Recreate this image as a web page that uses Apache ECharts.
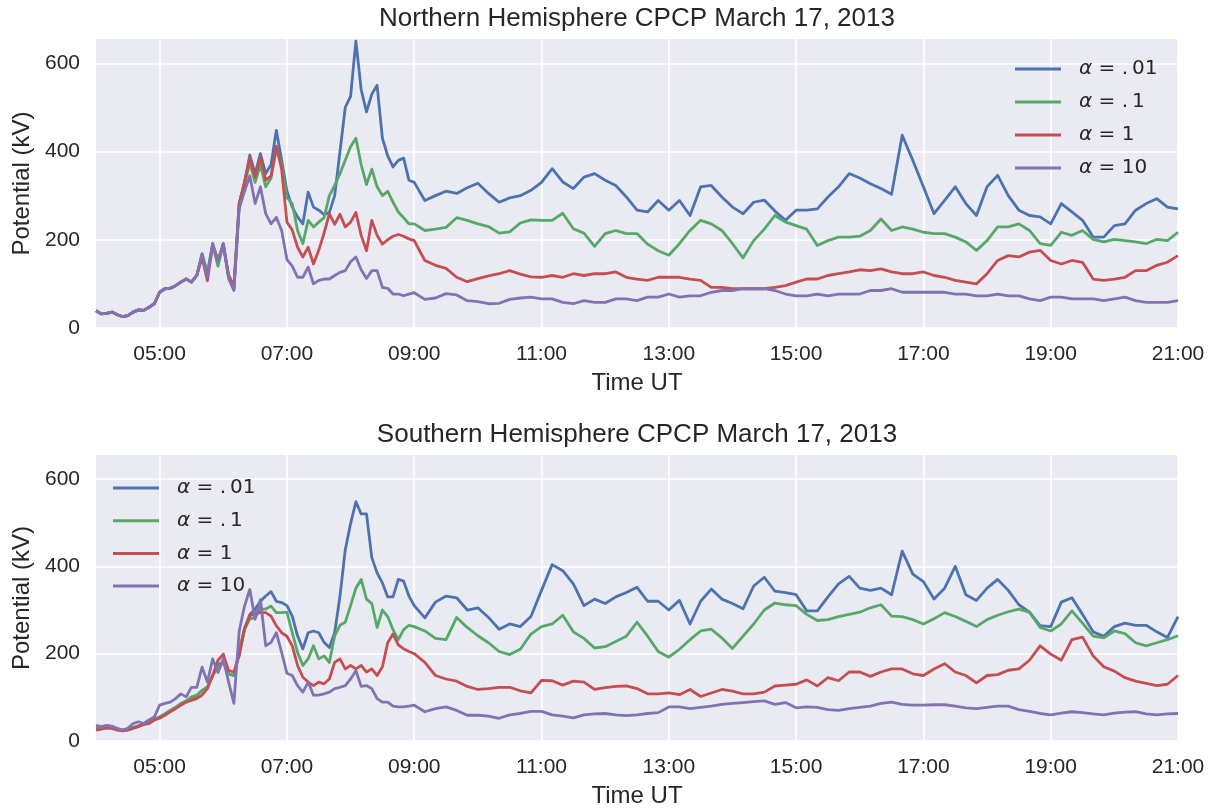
<!DOCTYPE html>
<html><head><meta charset="utf-8">
<script src="https://cdn.jsdelivr.net/npm/echarts@6/dist/echarts.min.js"></script>
<style>html,body{margin:0;padding:0;background:#fff}#c{width:1212px;height:809px}</style>
</head><body><div id="c"></div>
<script>
const times = [
"04:00","04:05","04:10","04:15","04:20","04:25","04:30","04:35","04:40","04:45","04:50","04:55",
"05:00","05:05","05:10","05:15","05:20","05:25","05:30","05:35","05:40","05:45","05:50","05:55",
"06:00","06:05","06:10","06:15","06:20","06:25","06:30","06:35","06:40","06:45","06:50","06:55",
"07:00","07:05","07:10","07:15","07:20","07:25","07:30","07:35","07:40","07:45","07:50","07:55",
"08:00","08:05","08:10","08:15","08:20","08:25","08:30","08:35","08:40","08:45","08:50","08:55",
"09:00","09:10","09:20","09:30","09:40","09:50",
"10:00","10:10","10:20","10:30","10:40","10:50",
"11:00","11:10","11:20","11:30","11:40","11:50",
"12:00","12:10","12:20","12:30","12:40","12:50",
"13:00","13:10","13:20","13:30","13:40","13:50",
"14:00","14:10","14:20","14:30","14:40","14:50",
"15:00","15:10","15:20","15:30","15:40","15:50",
"16:00","16:10","16:20","16:30","16:40","16:50",
"17:00","17:10","17:20","17:30","17:40","17:50",
"18:00","18:10","18:20","18:30","18:40","18:50",
"19:00","19:10","19:20","19:30","19:40","19:50",
"20:00","20:10","20:20","20:30","20:40","20:50",
"21:00"];

const seriesNames = ["α=.01", "α=.1", "α=1", "α=10"];
const legendText = {"α=.01": " = .\u200901", "α=.1": " = .\u20091", "α=1": " = 1", "α=10": " = 10"};

// Northern Hemisphere (kV)
const northA001 = [
39,32,33,36,30,26,28,36,41,40,47,55,
81,89,90,96,104,111,104,119,168,120,191,150,
191,115,89,282,330,392,350,395,350,370,448,380,
310,274,252,236,308,274,267,257,262,300,400,500,
525,650,540,490,530,550,430,390,365,380,385,335,
330,289,300,310,305,318,
328,305,285,295,300,312,
330,361,331,316,342,350,
335,323,297,267,263,289,
267,289,255,320,323,297,
274,259,285,290,265,244,
267,267,270,297,320,350,
340,327,316,303,437,380,
320,259,289,320,282,255,
320,346,300,267,255,252,
236,282,263,244,206,206,
232,236,267,282,293,274,
270];
const northA01 = [
39,32,33,36,30,26,28,36,41,40,47,55,
81,89,90,96,104,111,104,119,165,128,188,140,
191,118,92,282,325,375,330,370,320,340,405,370,
295,282,221,191,244,229,240,250,300,323,350,380,
411,430,370,325,360,320,300,310,285,263,250,236,
236,221,224,228,250,244,
236,230,215,218,238,245,
244,244,260,225,215,185,
214,221,214,214,190,175,
165,191,221,244,236,221,
191,159,198,224,255,240,
232,224,187,198,206,206,
208,221,247,221,229,224,
217,214,214,206,195,176,
198,229,229,236,221,191,
187,217,210,221,201,195,
201,198,195,191,201,198,
217];
const northA1 = [
39,32,33,36,30,26,28,36,41,40,47,55,
81,89,90,96,104,111,104,119,160,107,188,155,
188,120,95,282,330,385,342,388,335,345,412,360,
240,222,183,161,183,145,176,215,259,235,258,229,
240,262,210,175,244,210,190,200,208,212,208,202,
198,153,142,135,115,105,
112,118,123,130,122,116,
115,119,115,123,119,123,
123,127,115,111,108,115,
115,115,111,108,92,92,
89,89,89,89,92,96,
104,111,111,119,123,127,
132,130,134,127,123,123,
127,119,115,108,104,100,
123,153,164,161,172,176,
153,145,153,149,111,108,
111,115,130,130,142,149,
164];
const northA10 = [
39,32,33,36,30,26,28,36,41,40,47,55,
81,89,90,96,104,111,104,119,168,115,191,150,
191,112,85,270,310,345,282,320,259,236,251,221,
155,140,115,115,138,100,108,111,111,119,126,130,
150,161,132,112,130,130,92,90,77,77,73,77,
80,65,68,78,75,62,
60,55,56,65,68,70,
66,66,58,55,62,58,
58,66,66,62,70,70,
77,70,73,73,81,85,
85,89,89,89,85,77,
73,73,77,73,77,77,
77,85,85,89,81,81,
81,81,81,77,77,73,
73,77,73,73,66,62,
70,70,66,66,66,62,
66,70,62,58,58,58,
62];

// Southern Hemisphere (kV)
const southA001 = [
30,30,32,31,28,25,27,31,35,39,42,49,
55,62,70,77,85,90,98,103,116,123,150,175,
180,153,150,205,258,290,302,320,332,342,320,317,
310,286,241,211,248,252,248,226,214,248,332,438,
498,548,520,520,420,385,362,330,330,370,366,332,
310,282,318,332,328,300,
305,283,256,268,262,285,
345,404,390,360,310,325,
315,330,340,352,320,320,
300,322,268,320,348,325,
315,303,355,375,343,340,
335,298,298,330,360,377,
350,345,350,335,435,382,
365,325,350,400,335,322,
350,370,345,312,295,264,
262,318,328,290,250,240,
262,270,265,265,250,237,
285];
const southA01 = [
28,28,30,29,26,24,26,30,34,38,42,50,
55,62,70,77,86,92,101,105,116,123,150,170,
180,153,150,203,256,279,283,302,302,309,294,294,
295,248,203,173,188,218,188,195,180,241,265,272,
310,350,370,325,315,260,300,285,255,232,255,265,
262,252,235,232,283,260,
241,225,205,198,210,245,
262,268,288,250,235,213,
216,228,240,272,240,205,
192,210,232,252,256,236,
212,240,268,300,316,312,
310,290,276,278,285,290,
295,305,312,286,285,278,
268,280,294,285,274,262,
278,288,296,302,295,260,
252,268,298,270,240,236,
252,246,225,218,225,232,
241];
const southA1 = [
25,27,30,29,25,23,25,29,33,38,40,48,
52,59,67,74,82,89,93,97,105,120,150,185,
199,161,158,195,256,286,294,294,294,286,264,248,
240,218,173,146,135,127,135,131,142,180,188,165,
173,165,173,158,165,150,170,225,245,220,211,205,
200,180,150,142,137,125,
118,120,123,123,115,110,
139,138,128,137,135,118,
122,125,126,120,108,108,
110,106,118,102,110,118,
114,108,108,112,126,128,
130,140,126,145,138,158,
158,148,158,165,165,154,
150,165,177,158,150,133,
150,152,162,165,185,218,
199,185,232,238,195,170,
160,145,137,132,127,130,
150];
const southA10 = [
36,33,36,34,29,25,29,40,44,40,48,55,
82,86,89,97,108,101,123,123,169,135,188,157,
188,135,86,252,309,347,279,324,218,226,248,203,
155,150,127,112,135,105,105,108,112,120,123,127,
142,161,125,127,120,97,89,89,80,78,78,80,
82,67,74,78,70,59,
59,57,52,60,63,68,
68,60,57,53,60,62,
63,60,58,60,63,65,
78,78,74,77,80,84,
86,88,90,92,84,88,
76,78,77,72,70,74,
77,80,86,89,84,82,
82,83,83,80,76,74,
77,80,80,72,68,63,
60,64,67,65,62,60,
64,66,67,62,60,62,
63];

const colors = ["#4C72B0", "#55A868", "#C44E52", "#8172B2"];
const TXT = "#262626";
const SANS = "Liberation Sans, Arial, sans-serif";

function toMin(s) { const p = s.split(":"); return (+p[0]) * 60 + (+p[1]); }
const X = times.map(toMin);
const pair = arr => arr.map((v, i) => [X[i], v]);

const north = [northA001, northA01, northA1, northA10];
const south = [southA001, southA01, southA1, southA10];

function mkSeries(arrs, gi) {
  return arrs.map((d, k) => ({
    type: "line", name: seriesNames[k], xAxisIndex: gi, yAxisIndex: gi,
    data: pair(d), showSymbol: false, symbol: "none", smooth: false,
    lineStyle: { width: 2.8, color: colors[k], join: "round" }, itemStyle: { color: colors[k] },
    emphasis: { disabled: true }, animation: false, z: 3
  }));
}

function xAxis(gi) {
  return {
    type: "value", gridIndex: gi, min: 240, max: 1260, interval: 60,
    name: "Time UT", nameLocation: "middle", nameGap: 43,
    nameTextStyle: { fontSize: 24, color: TXT, fontFamily: SANS },
    axisLine: { show: false }, axisTick: { show: false },
    axisLabel: {
      margin: 16, fontSize: 21, color: TXT, fontFamily: SANS,
      showMinLabel: true, showMaxLabel: true,
      formatter: v => { const h = Math.round(v / 60); return h % 2 === 1 ? (h < 10 ? "0" : "") + h + ":00" : ""; }
    },
    splitLine: { show: true, lineStyle: { color: ["rgba(255,255,255,0)", "#ffffff"], width: 1.6 } }
  };
}
function yAxis(gi) {
  return {
    type: "value", gridIndex: gi, min: 0, max: 655, interval: 200,
    name: "Potential (kV)", nameLocation: "middle", nameGap: 62, nameRotate: 90,
    nameTextStyle: { fontSize: 24, color: TXT, fontFamily: SANS },
    axisLine: { show: false }, axisTick: { show: false },
    axisLabel: { margin: 16, fontSize: 21, color: TXT, fontFamily: SANS, showMaxLabel: false },
    splitLine: { show: true, showMaxLine: false, lineStyle: { color: "#ffffff", width: 1.6 } }
  };
}
function legend(left, top, gap) {
  return {
    data: seriesNames, orient: "vertical", left: left, top: top, padding: 0,
    itemWidth: 46, itemHeight: 3, itemGap: gap, icon: "rect",
    formatter: n => "{a|α}{b|" + legendText[n] + "}",
    textStyle: {
      color: TXT,
      rich: {
        a: { fontFamily: "DejaVu Sans", fontStyle: "italic", fontSize: 20, lineHeight: 22, color: TXT, padding: [0, 0, 0, 13] },
        b: { fontFamily: "DejaVu Sans", fontSize: 20, lineHeight: 22, color: TXT }
      }
    }
  };
}

const chart = echarts.init(document.getElementById("c"), null, { renderer: "canvas" });
chart.setOption({
  animation: false,
  backgroundColor: "#ffffff",
  title: [
    { text: "Northern Hemisphere CPCP March 17, 2013", left: 637, top: 6, textAlign: "center", padding: 0,
      textStyle: { fontSize: 26, fontWeight: "normal", color: TXT, fontFamily: SANS } },
    { text: "Southern Hemisphere CPCP March 17, 2013", left: 637, top: 422, textAlign: "center", padding: 0,
      textStyle: { fontSize: 26, fontWeight: "normal", color: TXT, fontFamily: SANS } }
  ],
  legend: [legend(1015, 59, 13), legend(113, 478, 12.7)],
  grid: [
    { left: 96, top: 39, width: 1082, height: 289, show: true, backgroundColor: "#EAEAF2", borderWidth: 0 },
    { left: 96, top: 455, width: 1082, height: 288, show: true, backgroundColor: "#EAEAF2", borderWidth: 0 }
  ],
  xAxis: [xAxis(0), xAxis(1)],
  yAxis: [yAxis(0), yAxis(1)],
  series: [...mkSeries(north, 0), ...mkSeries(south, 1)]
});
</script>
</body></html>
